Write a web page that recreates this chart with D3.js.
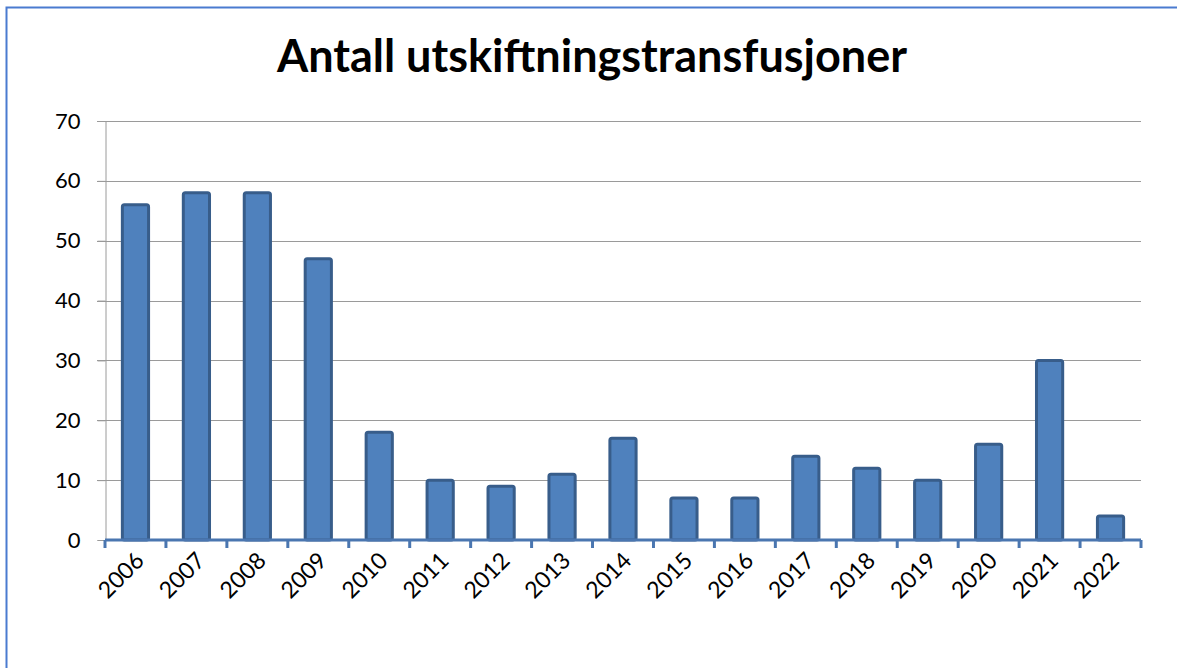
<!DOCTYPE html>
<html>
<head>
<meta charset="utf-8">
<script src="https://cdn.jsdelivr.net/npm/d3@7"></script>
<style>
  body { margin: 0; background: #fff; }
  text { font-family: Lato, "Open Sans", sans-serif; }
</style>
</head>
<body>
<script>
// Chart data
var years = ["2006", "2007", "2008", "2009", "2010", "2011", "2012", "2013", "2014",
             "2015", "2016", "2017", "2018", "2019", "2020", "2021", "2022"];
var counts = [56, 58, 58, 47, 18, 10, 9, 11, 17, 7, 7, 14, 12, 10, 16, 30, 4];
var yTicks = [0, 10, 20, 30, 40, 50, 60, 70];
var title = "Antall utskiftningstransfusjoner";

var data = years.map(function (y, i) { return { year: y, value: counts[i] }; });

var W = 1177, H = 668;
var margin = { top: 121, right: 36, bottom: 128, left: 105 },
    width = W - margin.left - margin.right,
    height = H - margin.top - margin.bottom;

var root = d3.select("body").append("svg")
    .attr("width", W)
    .attr("height", H);

// Outer frame (only top and left edges are visible)
root.append("rect")
    .attr("x", 6.5).attr("y", 7.5)
    .attr("width", W + 20).attr("height", H + 20)
    .attr("fill", "none")
    .attr("stroke", "#4a7bd0")
    .attr("stroke-width", 2);

// Title
root.append("text")
    .attr("x", 592)
    .attr("y", 72)
    .attr("text-anchor", "middle")
    .style("font-size", "45px")
    .style("font-weight", "bold")
    .text(title);

var svg = root.append("g")
    .attr("transform", "translate(" + margin.left + "," + margin.top + ")");

// Scales
var x = d3.scaleBand()
    .domain(years)
    .range([0, width])
    .paddingInner(0.57)
    .paddingOuter(0.285);

var y = d3.scaleLinear()
    .domain([0, 70])
    .range([height, 0]);

// Gridlines
svg.selectAll(".grid")
    .data(yTicks.filter(function (d) { return d > 0; }))
    .enter().append("line")
    .attr("class", "grid")
    .attr("x1", -8).attr("x2", width)
    .attr("y1", function (d) { return Math.round(y(d)) + 0.5; })
    .attr("y2", function (d) { return Math.round(y(d)) + 0.5; })
    .attr("stroke", "#9a9a9a")
    .attr("stroke-width", 1);

// Y axis
var yAxis = svg.append("g")
    .attr("transform", "translate(0.5,0)")
    .call(d3.axisLeft(y).tickValues(yTicks).tickSize(8).tickPadding(17));
yAxis.select(".domain").attr("stroke", "#9a9a9a");
yAxis.selectAll(".tick line").attr("stroke", "#9a9a9a");
yAxis.selectAll(".tick text")
    .style("font-size", "22px")
    .style("font-family", "Lato, sans-serif")
    .attr("fill", "#000");

// Bars
svg.selectAll(".bar")
    .data(data)
    .enter().append("rect")
    .attr("class", "bar")
    .attr("x", function (d) { return x(d.year); })
    .attr("y", function (d) { return y(d.value); })
    .attr("width", x.bandwidth())
    .attr("height", function (d) { return height - y(d.value); })
    .attr("rx", 2)
    .attr("fill", "#4f81bd")
    .attr("stroke", "#385d8a")
    .attr("stroke-width", 3);

// X axis line with ticks at category boundaries
var step = x.step();
var bounds = d3.range(years.length + 1).map(function (i) { return i * step; });
var xAxisG = svg.append("g").attr("transform", "translate(0," + height + ")");
xAxisG.append("line")
    .attr("x1", 0).attr("x2", width)
    .attr("y1", 0).attr("y2", 0)
    .attr("stroke", "#4a76b0")
    .attr("stroke-width", 3);
xAxisG.selectAll(".xtick")
    .data(bounds)
    .enter().append("line")
    .attr("class", "xtick")
    .attr("x1", function (d) { return d; })
    .attr("x2", function (d) { return d; })
    .attr("y1", 0).attr("y2", 8)
    .attr("stroke", "#4a76b0")
    .attr("stroke-width", 3);

// X labels, rotated
xAxisG.selectAll(".xlabel")
    .data(years)
    .enter().append("text")
    .attr("class", "xlabel")
    .attr("text-anchor", "end")
    .attr("transform", function (d) {
        return "translate(" + (x(d) + x.bandwidth() / 2 + 10) + ",22) rotate(-45)";
    })
    .style("font-size", "23px")
    .text(function (d) { return d; });
</script>
</body>
</html>
